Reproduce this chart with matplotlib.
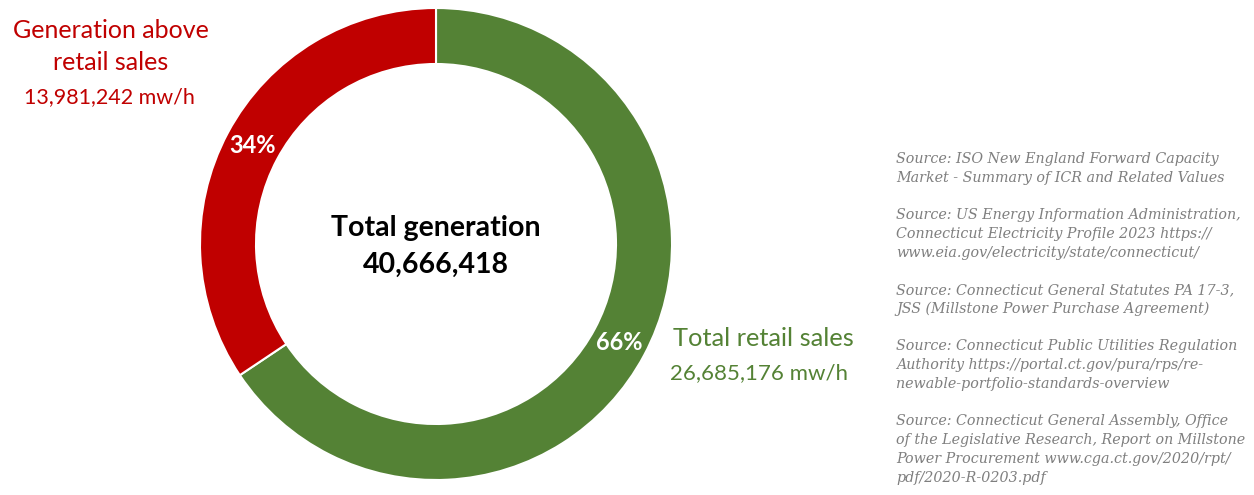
import matplotlib
matplotlib.use("Agg")
import matplotlib.pyplot as plt

# Data
categories = ["Total retail sales", "Generation above retail sales"]
values_mwh = [26685176, 13981242]
total_generation = 40666418
colors = ["#548235", "#C00000"]

sources = [
    ["Source: ISO New England Forward Capacity",
     "Market - Summary of ICR and Related Values"],
    ["Source: US Energy Information Administration,",
     "Connecticut Electricity Profile 2023 https://",
     "www.eia.gov/electricity/state/connecticut/"],
    ["Source: Connecticut General Statutes PA 17-3,",
     "JSS (Millstone Power Purchase Agreement)"],
    ["Source: Connecticut Public Utilities Regulation",
     "Authority https://portal.ct.gov/pura/rps/re-",
     "newable-portfolio-standards-overview"],
    ["Source: Connecticut General Assembly, Office",
     "of the Legislative Research, Report on Millstone",
     "Power Procurement www.cga.ct.gov/2020/rpt/",
     "pdf/2020-R-0203.pdf"],
]

W, H = 1254, 495
fig = plt.figure(figsize=(W / 100, H / 100), dpi=100)
ax = fig.add_axes([0, 0, 1, 1])

sans = "Lato"
cx, cy, r_out, ring = 436, H - 244, 236, 56

wedges, _, autotexts = ax.pie(
    values_mwh, colors=colors, startangle=90, counterclock=False,
    radius=r_out, center=(cx, cy),
    autopct="%.0f%%", pctdistance=(r_out - ring / 2) / r_out,
    wedgeprops=dict(width=ring, edgecolor="white", linewidth=1.5),
    textprops=dict(color="white", fontsize=17, fontweight="bold", family=sans),
)

ax.set_xlim(0, W)
ax.set_ylim(0, H)
ax.set_aspect("equal")
ax.axis("off")

# Centre label
ax.text(cx, H - 228, "Total generation", ha="center", va="center",
        fontsize=20.5, fontweight="bold", family=sans, color="black")
ax.text(cx, H - 265, f"{total_generation:,}", ha="center", va="center",
        fontsize=20.5, fontweight="bold", family=sans, color="black")

# Red segment label
ax.text(111, H - 30, "Generation above", ha="center", va="center",
        fontsize=18, family=sans, color=colors[1])
ax.text(111, H - 62, "retail sales", ha="center", va="center",
        fontsize=18, family=sans, color=colors[1])
ax.text(109, H - 97, f"{values_mwh[1]:,} mw/h", ha="center", va="center",
        fontsize=15.5, family=sans, color=colors[1])

# Green segment label
ax.text(673, H - 338, categories[0], ha="left", va="center",
        fontsize=18.3, family=sans, color=colors[0])
ax.text(670, H - 373, f"{values_mwh[0]:,} mw/h", ha="left", va="center",
        fontsize=16, family=sans, color=colors[0])

# Source notes
y = H - 159
for block in sources:
    for line in block:
        ax.text(896, y, line, ha="left", va="center", fontsize=10.3,
                family="DejaVu Serif", style="italic", color="#7F7F7F")
        y -= 19
    y -= 18

fig.savefig("out.png", dpi=100, facecolor="white")
